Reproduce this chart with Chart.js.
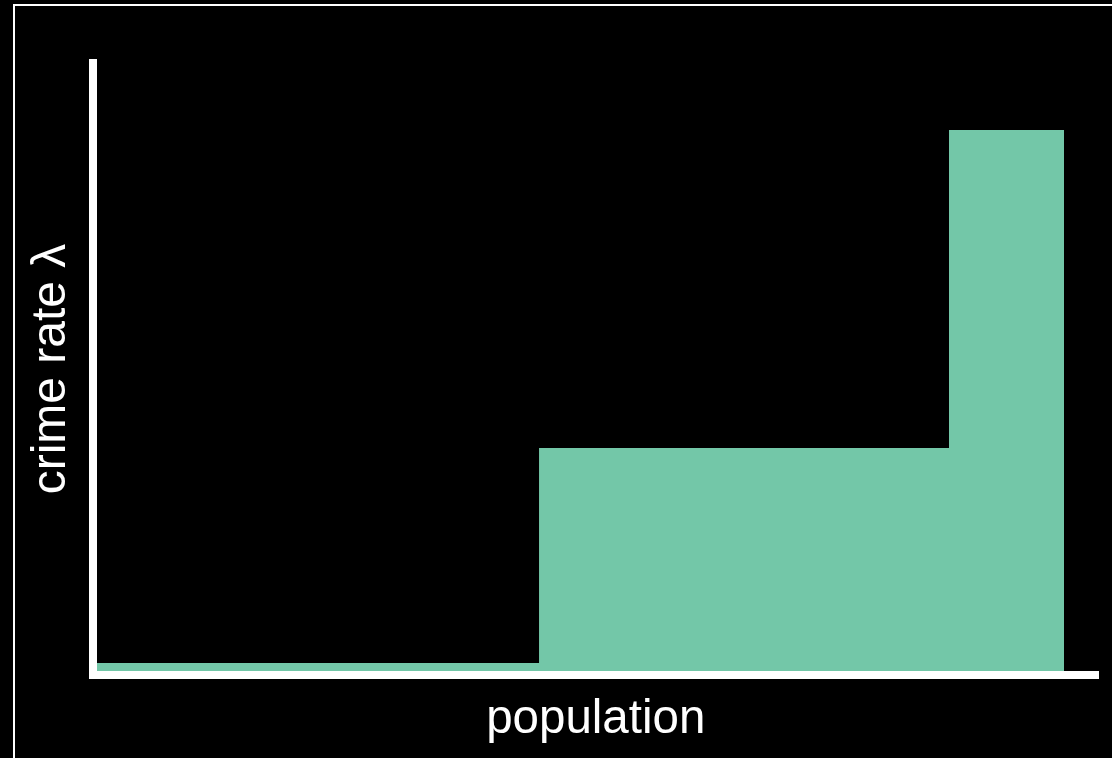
<!DOCTYPE html>
<html>
<head>
<meta charset="utf-8">
<script src="https://cdn.jsdelivr.net/npm/chart.js@4/dist/chart.umd.min.js"></script>
<style>
  html, body { margin: 0; padding: 0; background: #000; overflow: hidden; }
  #wrap { position: relative; width: 1112px; height: 758px; background: #000; }
  #frame { position: absolute; left: 13px; top: 4px; right: -10px; bottom: -10px;
           border-left: 2px solid #fff; border-top: 2px solid #fff; pointer-events: none; }
  canvas { position: absolute; left: 0; top: 0; }
</style>
</head>
<body>
<div id="wrap">
  <canvas id="c" width="1112" height="758"></canvas>
  <div id="frame"></div>
</div>
<script>
// Bin edges along the population axis (arbitrary units, 0..100)
const populationEdges = [0, 44.36, 85.13, 96.57];
// Crime rate λ in each bin (arbitrary units, 0..10)
const crimeRates = [0.196, 3.71, 8.905];
const xAxisTitle = 'population';
const yAxisTitle = 'crime rate λ';

// Build step outline points from the arrays
const stepPoints = [];
for (let i = 0; i < crimeRates.length; i++) {
  stepPoints.push({ x: populationEdges[i], y: crimeRates[i] });
}
stepPoints.push({ x: populationEdges[populationEdges.length - 1], y: 0 });

const fontFamily = '"Liberation Sans", Arial, Helvetica, sans-serif';

new Chart(document.getElementById('c'), {
  type: 'line',
  data: {
    datasets: [{
      data: stepPoints,
      stepped: 'before',
      fill: 'origin',
      backgroundColor: 'rgb(115,199,168)',
      borderColor: 'rgba(0,0,0,0)',
      borderWidth: 0,
      pointRadius: 0,
      pointHoverRadius: 0,
      tension: 0
    }]
  },
  options: {
    responsive: false,
    animation: false,
    devicePixelRatio: 1,
    events: [],
    layout: { padding: { left: 16, right: 13.5, top: 63, bottom: 9.8 } },
    plugins: { legend: { display: false }, tooltip: { enabled: false }, title: { display: false } },
    scales: {
      x: {
        type: 'linear',
        min: 0,
        max: 100,
        grid: { display: false, drawTicks: false, lineWidth: 1 },
        ticks: { display: false },
        border: { display: true, color: '#fff', width: 8, z: 1 },
        title: {
          display: true,
          text: xAxisTitle,
          color: '#fff',
          font: { family: fontFamily, size: 47.5, lineHeight: 1.2 },
          padding: { top: 16.2, bottom: 0 }
        }
      },
      y: {
        type: 'linear',
        min: 0,
        max: 10,
        grid: { display: false, drawTicks: false, lineWidth: 8 },
        ticks: { display: false },
        border: { display: true, color: '#fff', width: 8, z: 1 },
        title: {
          display: true,
          text: yAxisTitle,
          color: '#fff',
          font: { family: fontFamily, size: 48, lineHeight: 1.2 },
          padding: { top: 7.2, bottom: 12.2 }
        }
      }
    }
  }
});
</script>
</body>
</html>
